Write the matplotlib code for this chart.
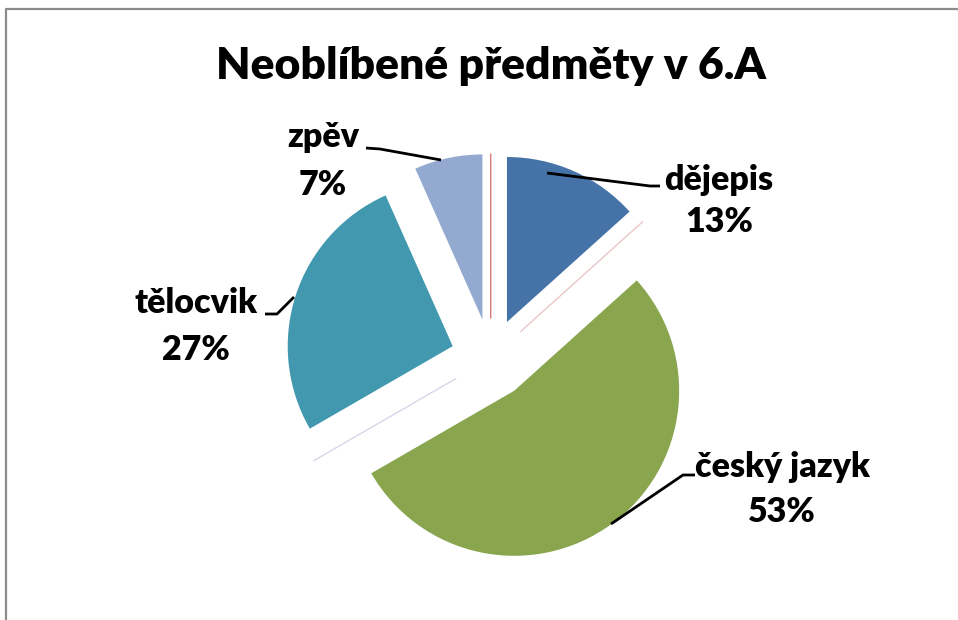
import matplotlib
matplotlib.use("Agg")
import matplotlib.pyplot as plt
from matplotlib.lines import Line2D

plt.rcParams['font.family'] = ['Lato', 'DejaVu Sans']

# ---- data ----
categories = ['dějepis', '', 'český jazyk', '', 'tělocvik', 'zpěv', '']
counts = [2, 0, 8, 0, 4, 1, 0]
colors = ['#4572A7', '#AA4643', '#89A54E', '#71588F', '#4198AF', '#93A9CF', '#C0504D']
zero_edge = ['none', '#EBC6C6', 'none', '#DAD5E8', 'none', 'none', '#D97777']
title = 'Neoblíbené předměty v 6.A'

# ---- layout ----
W, H = 958, 620
cx, cy, R = 490.7, 358.5, 165.0   # pie centre / radius in pixels
explode_frac = 0.242

fig = plt.figure(figsize=(W / 100, H / 100), dpi=100)
ax = fig.add_axes([0, 0, 1, 1])

wedges, _ = ax.pie(counts, colors=colors, startangle=90, counterclock=False,
                   explode=[explode_frac] * len(counts), radius=1.0, center=(0, 0),
                   normalize=True, frame=True)
for w, v, ec in zip(wedges, counts, zero_edge):
    if v == 0:
        w.set_facecolor('none')
        w.set_edgecolor(ec)
        w.set_linewidth(1.0)
    else:
        w.set_edgecolor('none')
ax.set_xlim(-cx / R, (W - cx) / R)
ax.set_ylim((cy - H) / R, cy / R)
ax.set_aspect('auto')
ax.axis('off')

total = sum(counts)

def px(x, y):
    return ((x - cx) / R, (cy - y) / R)

# label layout: (name line centre, pct line centre, leader polyline) in pixels
label_layout = {
    'dějepis': ((719, 180), (719, 222), [(547, 173), (650, 186), (660, 186)]),
    'český jazyk': ((782, 467), (782, 512), [(611, 524), (683, 475), (695, 475)]),
    'tělocvik': ((196, 303), (196, 350), [(265, 314), (277, 314), (294, 297)]),
    'zpěv': ((323, 137), (323, 185), [(366, 148), (380, 149), (441, 160)]),
}

for name, v in zip(categories, counts):
    if v == 0 or name not in label_layout:
        continue
    (nx, ny), (qx, qy), line = label_layout[name]
    pct = round(100 * v / total)
    ax.text(*px(nx, ny), name, ha='center', va='center', fontsize=24.5,
            fontweight='heavy', color='black')
    ax.text(*px(qx, qy), f'{pct}%', ha='center', va='center', fontsize=24.5,
            fontweight='heavy', color='black')
    xs, ys = zip(*[px(a, b) for a, b in line])
    ax.plot(xs, ys, color='black', lw=2.0, solid_capstyle='butt')

ax.text(*px(491, 66), title, ha='center', va='center', fontsize=32,
        fontweight='heavy', color='black')

# chart frame (only top and left visible in crop)
fig.add_artist(Line2D([5.5 / W, 5.5 / W, 1.0], [0.0, 1 - 8.5 / H, 1 - 8.5 / H],
                      transform=fig.transFigure, color='#8C8C8C', lw=1.6))

fig.savefig('out.png', dpi=100, facecolor='white')
